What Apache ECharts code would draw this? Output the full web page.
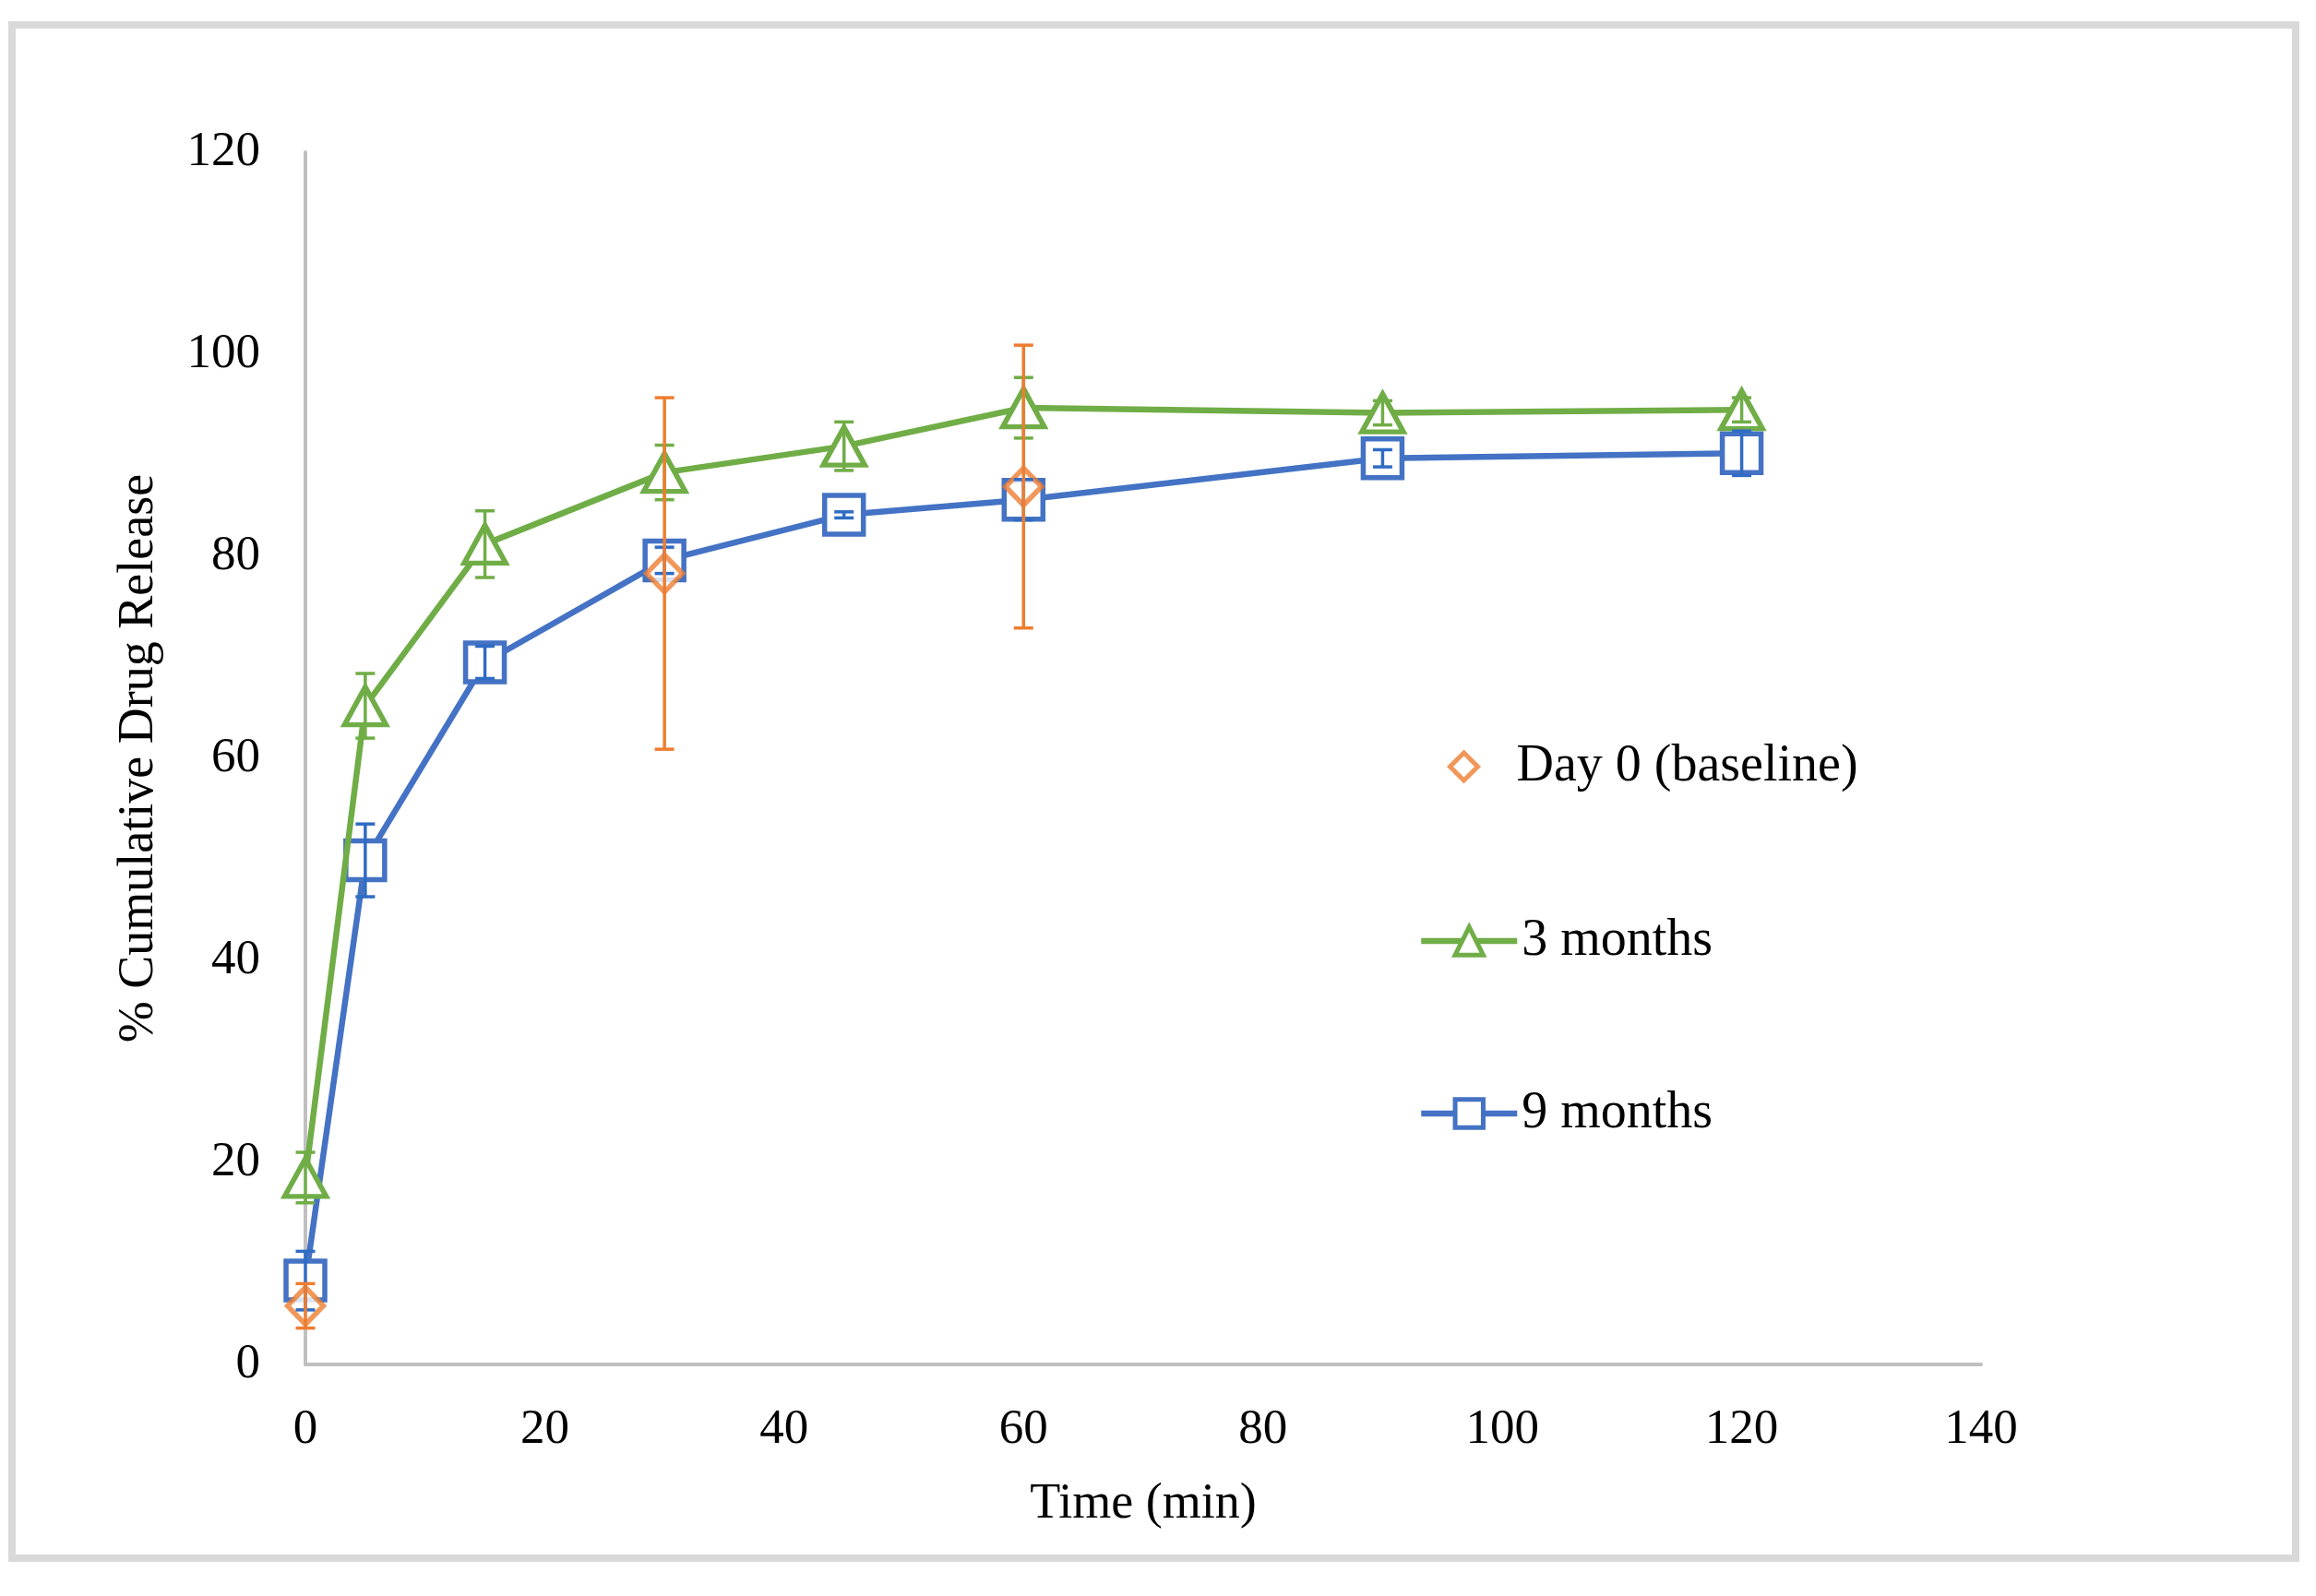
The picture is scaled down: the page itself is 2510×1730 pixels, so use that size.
<!DOCTYPE html>
<html>
<head>
<meta charset="utf-8">
<script src="https://cdn.jsdelivr.net/npm/echarts@6/dist/echarts.min.js"></script>
<style>
html,body{margin:0;padding:0;background:#fff;}
#chart{width:2510px;height:1730px;}
</style>
</head>
<body>
<div id="chart"></div>
<script>
// ---- data ----
const timeMin = [0, 5, 15, 30, 45, 60, 90, 120];

const day0Times = [0, 30, 60];
const day0Values = [5.8, 78.3, 86.9];
const day0Err = [2.2, 17.4, 14.0];

const m3Values = [18.5, 65.2, 81.2, 88.3, 90.9, 94.7, 94.2, 94.5];
const m3Err = [2.5, 3.2, 3.3, 2.7, 2.4, 3.0, 1.2, 1.2];

const m9Values = [8.3, 49.9, 69.5, 79.6, 84.1, 85.6, 89.7, 90.2];
const m9Err = [2.9, 3.6, 1.6, 1.3, 0.3, 2.0, 0.85, 2.2];

const xTicks = [0, 20, 40, 60, 80, 100, 120, 140];
const yTicks = [0, 20, 40, 60, 80, 100, 120];

const names = ['Day 0 (baseline)', '3 months', '9 months'];
const ORANGE = '#ED7D31', GREEN = '#70AD47', BLUE = '#4472C4', BLUE_ERR = '#2F6CC4';
const FONT = "'Liberation Serif', 'Times New Roman', serif";

function pairs(xs, ys) { return xs.map((x, i) => [x, ys[i]]); }
function errData(xs, ys, es) { return xs.map((x, i) => [x, ys[i] - es[i], ys[i] + es[i]]); }

function errSeries(name, data, color, z) {
  return {
    type: 'custom',
    name: name + ' err',
    data: data,
    z: z,
    silent: true,
    encode: { x: 0, y: [1, 2] },
    renderItem: function (params, api) {
      const x = api.value(0);
      const lo = api.coord([x, api.value(1)]);
      const hi = api.coord([x, api.value(2)]);
      const cap = 10.5;
      const st = { stroke: color, lineWidth: 3.5, fill: null };
      return {
        type: 'group',
        children: [
          { type: 'line', shape: { x1: lo[0], y1: lo[1], x2: hi[0], y2: hi[1] }, style: st },
          { type: 'line', shape: { x1: lo[0] - cap, y1: lo[1], x2: lo[0] + cap, y2: lo[1] }, style: st },
          { type: 'line', shape: { x1: hi[0] - cap, y1: hi[1], x2: hi[0] + cap, y2: hi[1] }, style: st }
        ]
      };
    }
  };
}

const chart = echarts.init(document.getElementById('chart'), null, { renderer: 'canvas' });

function legendAt(item, left, top, itemHeight) {
  return {
    show: true,
    orient: 'vertical',
    left: left,
    top: top,
    itemWidth: 104,
    itemHeight: itemHeight,
    itemGap: 0,
    symbolKeepAspect: true,
    data: [item],
    textStyle: { fontFamily: FONT, fontSize: 56, color: '#000', lineHeight: 60 },
    selectedMode: false
  };
}

const option = {
  animation: false,
  backgroundColor: '#fff',
  graphic: [{
    type: 'rect',
    z: -10,
    shape: { x: 13, y: 27, width: 2475, height: 1662 },
    style: { fill: null, stroke: '#d9d9d9', lineWidth: 8 }
  }],
  grid: { left: 331, right: 363, top: 165, bottom: 251, containLabel: false },
  legend: [
    legendAt({ name: names[0], icon: 'path://M0,-1L1,0L0,1L-1,0Z',
               itemStyle: { color: '#fff', borderColor: ORANGE, borderWidth: 5 } }, 1564, 796, 30),
    legendAt({ name: names[1],
               itemStyle: { color: '#fff', borderColor: GREEN, borderWidth: 5 },
               lineStyle: { color: GREEN, width: 6.5 } }, 1532, 985, 38),
    legendAt({ name: names[2],
               itemStyle: { color: '#fff', borderColor: BLUE, borderWidth: 5 },
               lineStyle: { color: BLUE, width: 6.5 } }, 1532, 1172, 38)
  ],
  xAxis: {
    type: 'value',
    min: 0, max: 140, interval: 20,
    name: 'Time (min)',
    nameLocation: 'middle',
    nameGap: 125,
    nameTextStyle: { fontFamily: FONT, fontSize: 54, color: '#000' },
    axisLine: { show: true, lineStyle: { color: '#c0c0c0', width: 4 } },
    axisTick: { show: false },
    splitLine: { show: false },
    axisLabel: {
      fontFamily: FONT, fontSize: 53, color: '#000', margin: 45,
      customValues: xTicks
    }
  },
  yAxis: {
    type: 'value',
    min: 0, max: 120, interval: 20,
    name: '% Cumulative Drug Release',
    nameLocation: 'middle',
    nameGap: 153,
    nameTextStyle: { fontFamily: FONT, fontSize: 54, color: '#000' },
    axisLine: { show: true, lineStyle: { color: '#c0c0c0', width: 4 } },
    axisTick: { show: false },
    splitLine: { show: false },
    axisLabel: {
      fontFamily: FONT, fontSize: 53, color: '#000', margin: 49,
      customValues: yTicks
    }
  },
  series: [
    {
      type: 'line',
      name: names[2],
      data: pairs(timeMin, m9Values),
      z: 2,
      symbol: 'rect',
      symbolSize: 42,
      showAllSymbol: true,
      lineStyle: { color: BLUE, width: 6.5 },
      itemStyle: { color: '#fff', borderColor: BLUE, borderWidth: 5.5 }
    },
    {
      type: 'line',
      name: names[1],
      data: pairs(timeMin, m3Values),
      z: 3,
      symbol: 'triangle',
      symbolSize: [45, 41],
      showAllSymbol: true,
      lineStyle: { color: GREEN, width: 6.5 },
      itemStyle: { color: '#fff', borderColor: GREEN, borderWidth: 5.5 }
    },
    {
      type: 'scatter',
      name: names[0],
      data: pairs(day0Times, day0Values),
      z: 4,
      symbol: 'diamond',
      symbolSize: [39, 40],
      itemStyle: { color: '#fff', borderColor: ORANGE, borderWidth: 5.5 }
    },
    errSeries(names[2], errData(timeMin, m9Values, m9Err), BLUE_ERR, 6),
    errSeries(names[1], errData(timeMin, m3Values, m3Err), GREEN, 6),
    errSeries(names[0], errData(day0Times, day0Values, day0Err), ORANGE, 7)
  ]
};
chart.setOption(option);
</script>
</body>
</html>
